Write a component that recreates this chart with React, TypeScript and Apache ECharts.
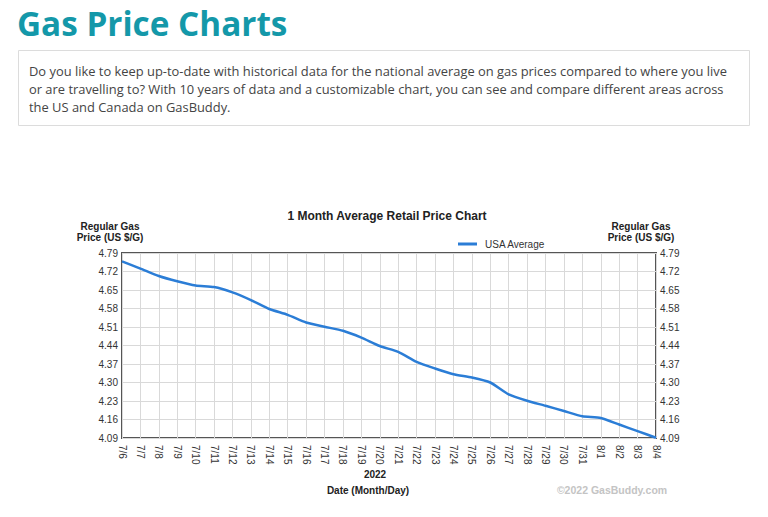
import React, { useEffect, useRef } from "react";
import * as echarts from "echarts";

const dates = ["7/6","7/7","7/8","7/9","7/10","7/11","7/12","7/13","7/14","7/15","7/16","7/17","7/18","7/19","7/20","7/21","7/22","7/23","7/24","7/25","7/26","7/27","7/28","7/29","7/30","7/31","8/1","8/2","8/3","8/4"];
const usaAverage = [4.758,4.731,4.703,4.683,4.667,4.661,4.641,4.612,4.578,4.556,4.527,4.511,4.496,4.470,4.438,4.416,4.378,4.353,4.331,4.319,4.300,4.255,4.231,4.212,4.192,4.172,4.166,4.141,4.116,4.091];
const axisMin = 4.09;
const axisMax = 4.79;
const axisStep = 0.07;
const paragraphLines = [
  "Do you like to keep up-to-date with historical data for the national average on gas prices compared to where you live",
  "or are travelling to? With 10 years of data and a customizable chart, you can see and compare different areas across",
  "the US and Canada on GasBuddy.",
];

export default function App() {
  const ref = useRef<HTMLDivElement>(null);
  useEffect(() => {
    const chart = echarts.init(ref.current!, null, { renderer: "svg" });
    const fmt = (v: number) => (v + axisMin).toFixed(2);
    const yAxisBase = {
      type: "value",
      min: 0,
      max: +(axisMax - axisMin).toFixed(2),
      interval: axisStep,
      axisLine: { show: false },
      axisTick: { show: false },
      axisLabel: { formatter: fmt, fontFamily: "Liberation Sans, Arial", fontSize: 10, color: "#333", margin: 4 },
    };
    chart.setOption({
      animation: false,
      backgroundColor: "#fff",
      title: {
        text: "1 Month Average Retail Price Chart",
        left: 382,
        top: 205,
        textAlign: "center",
        textStyle: { fontFamily: "Liberation Sans, Arial", fontSize: 12, fontWeight: "bold", color: "#222" },
      },
      legend: {
        left: 453,
        top: 234,
        icon: "rect",
        itemWidth: 19,
        itemHeight: 3,
        itemGap: 8,
        textStyle: { fontFamily: "Liberation Sans, Arial", fontSize: 10, color: "#333", padding: [0, 0, 0, 3] },
        data: ["USA Average"],
      },
      grid: { left: 122, top: 253, width: 534, height: 185, show: true, borderColor: "#555", borderWidth: 2, backgroundColor: "transparent" },
      xAxis: {
        type: "category",
        data: dates,
        boundaryGap: false,
        axisLine: { show: false },
        axisTick: { show: false },
        splitLine: { show: true, lineStyle: { color: "#d9d9d9", width: 1 } },
        axisLabel: { rotate: -90, interval: 0, fontFamily: "Liberation Sans, Arial", fontSize: 10, color: "#333", margin: 7 },
      },
      yAxis: [
        { ...yAxisBase, position: "left", splitLine: { show: true, lineStyle: { color: "#d9d9d9", width: 1 } } },
        { ...yAxisBase, position: "right", splitLine: { show: false } },
      ],
      series: [
        {
          name: "USA Average",
          type: "line",
          data: usaAverage.map((v) => +(v - axisMin).toFixed(4)),
          showSymbol: false,
          smooth: 0.2,
          lineStyle: { color: "#2b7dd6", width: 2.5 },
          itemStyle: { color: "#2b7dd6" },
        },
      ],
      graphic: [
        {
          type: "text",
          x: 17,
          y: 23,
          style: { text: "Gas Price Charts", fontFamily: "Open Sans", fontWeight: "bold", fontSize: 33.3, fill: "#1498a9", verticalAlign: "middle" },
        },
        {
          type: "rect",
          shape: { x: 18.5, y: 50.5, width: 731, height: 75 },
          style: { fill: "#fff", stroke: "#dcdcdc", lineWidth: 1 },
        },
        ...paragraphLines.map((t, i) => ({
          type: "text",
          x: 29,
          y: 71 + i * 18,
          style: { text: t, fontFamily: "Open Sans", fontSize: 12.9, fill: "#444", verticalAlign: "middle" },
        })),
        {
          type: "text",
          x: 110,
          y: 232,
          style: { text: "Regular Gas\nPrice (US $/G)", align: "center", verticalAlign: "middle", lineHeight: 11, fontFamily: "Liberation Sans, Arial", fontSize: 10, fontWeight: "bold", fill: "#222" },
        },
        {
          type: "text",
          x: 641,
          y: 232,
          style: { text: "Regular Gas\nPrice (US $/G)", align: "center", verticalAlign: "middle", lineHeight: 11, fontFamily: "Liberation Sans, Arial", fontSize: 10, fontWeight: "bold", fill: "#222" },
        },
        {
          type: "text",
          x: 375,
          y: 474,
          style: { text: "2022", align: "center", verticalAlign: "middle", fontFamily: "Liberation Sans, Arial", fontSize: 10, fontWeight: "bold", fill: "#222" },
        },
        {
          type: "text",
          x: 368,
          y: 490,
          style: { text: "Date (Month/Day)", align: "center", verticalAlign: "middle", fontFamily: "Liberation Sans, Arial", fontSize: 10, fontWeight: "bold", fill: "#222" },
        },
        {
          type: "text",
          x: 612,
          y: 490,
          style: { text: "©2022 GasBuddy.com", align: "center", verticalAlign: "middle", fontFamily: "Liberation Sans, Arial", fontSize: 10.5, fontWeight: "bold", fill: "#c4c4c4" },
        },
      ],
    });
    return () => chart.dispose();
  }, []);
  return <div ref={ref} style={{ position: "fixed", left: 0, top: 0, width: 768, height: 517 }} />;
}
